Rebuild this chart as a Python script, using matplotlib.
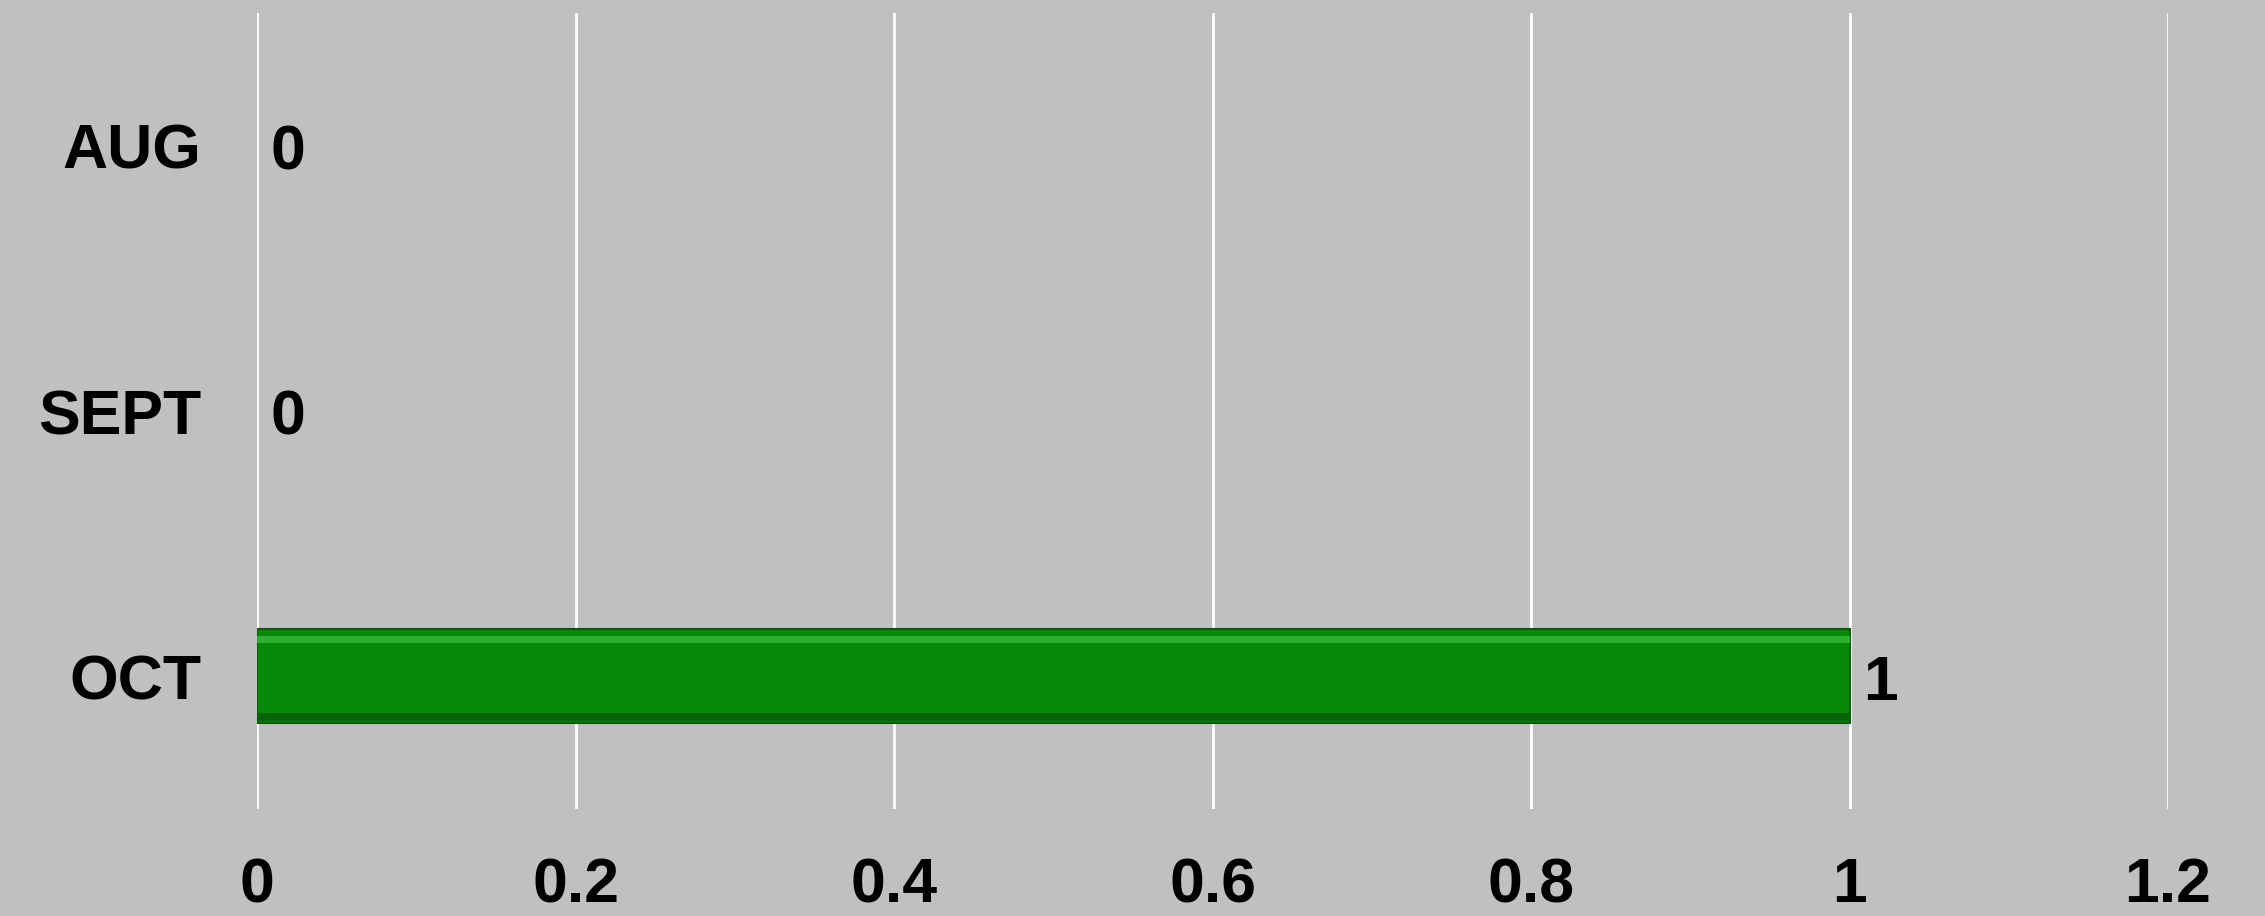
## Monthly count bar chart

import matplotlib.pyplot as plt
import numpy as np

plt.rcParams['font.family'] = ['Liberation Sans', 'DejaVu Sans']
plt.rcParams['font.weight'] = 'bold'

# Data
months = ['AUG', 'SEPT', 'OCT']
counts = [0, 0, 1]
x_ticks = [0, 0.2, 0.4, 0.6, 0.8, 1, 1.2]
x_tick_labels = ['0', '0.2', '0.4', '0.6', '0.8', '1', '1.2']

bg = '#c0c0c0'
fs = 45

fig = plt.figure(figsize=(22.65, 9.16), dpi=100, facecolor=bg)
ax = fig.add_axes([0.1135, 0.1168, 0.9572 - 0.1135, 0.9858 - 0.1168])
ax.set_facecolor(bg)

y_pos = np.arange(len(months))[::-1]   # AUG on top

# gridlines
for xv in x_ticks:
    ax.axvline(xv, color='white', lw=2, zorder=1)

# bars (main fill + simple bevel highlight/shadow), skip edges on empty bars
edges = ['#0a5a0a' if c > 0 else 'none' for c in counts]
ax.barh(y_pos, counts, height=0.355, color='#078a07', edgecolor=edges,
        linewidth=1.5, zorder=3)
ax.barh(y_pos + 0.14, counts, height=0.025, color='#2fae2f', linewidth=0, zorder=4)
ax.barh(y_pos - 0.155, counts, height=0.03, color='#056305', linewidth=0, zorder=4)

# value labels
for y, c in zip(y_pos, counts):
    ax.annotate(str(c), xy=(c, y), xytext=(10, -5), textcoords='offset points',
                ha='left', va='center', fontsize=fs, fontweight='bold', zorder=5)

ax.set_xlim(0, 1.2)
ax.set_ylim(-0.5, len(months) - 0.5)
ax.set_xticks(x_ticks)
ax.set_xticklabels(x_tick_labels, fontsize=fs, fontweight='bold')
ax.set_yticks(y_pos)
ax.set_yticklabels(months, fontsize=fs, fontweight='bold')
ax.tick_params(axis='both', length=0)
ax.tick_params(axis='x', pad=34)
ax.tick_params(axis='y', pad=40)
for s in ax.spines.values():
    s.set_visible(False)

plt.savefig('out.png', dpi=100, facecolor=bg)
